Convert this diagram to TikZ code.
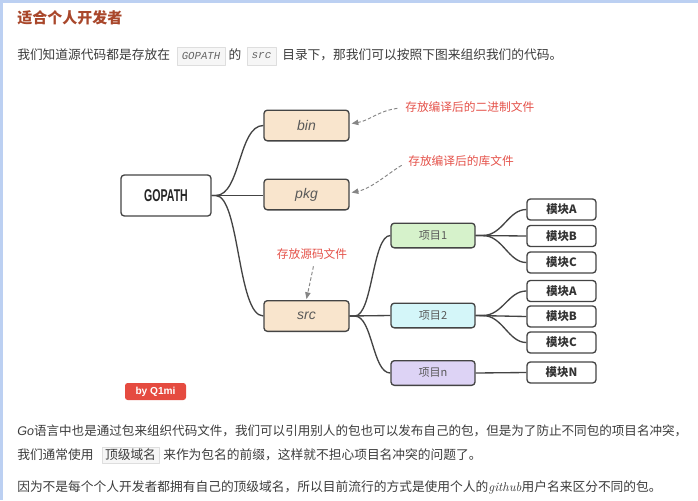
\documentclass[tikz,border=0pt]{standalone}
\usepackage{fontspec}
\usetikzlibrary{arrows.meta,calc}
\newfontfamily\cjk{Noto Sans CJK SC}
\newfontfamily\lsans{Liberation Sans}
\newfontfamily\lmono{Liberation Mono}
\definecolor{titlecol}{HTML}{A9472B}
\definecolor{bodytext}{HTML}{3C3C3C}
\definecolor{bordercol}{HTML}{BCD0F2}
\definecolor{codebg}{HTML}{F6F6F6}
\definecolor{codeline}{HTML}{DEDEDE}
\definecolor{boxline}{HTML}{444444}
\definecolor{peach}{HTML}{F9E5CD}
\definecolor{green1}{HTML}{D6F2CB}
\definecolor{cyan1}{HTML}{D4F6F9}
\definecolor{lav1}{HTML}{DDD3F5}
\definecolor{notered}{HTML}{E5524A}
\definecolor{notegray}{HTML}{858585}
\definecolor{badge}{HTML}{E54B40}
\begin{document}
\begin{tikzpicture}[x=0.75pt,y=-0.75pt,line join=round,
  box/.style={draw=boxline,line width=1pt,rounded corners=2.5pt,inner sep=0pt},
  gobox/.style={box,fill=white,minimum width=67.5pt,minimum height=30.75pt},
  dirbox/.style={box,fill=peach,minimum width=63.75pt,minimum height=23pt,
     font=\lsans\itshape\fontsize{10.5}{12}\selectfont,text=black!65},
  projbox/.style={box,minimum width=63pt,minimum height=18.5pt,
     font=\cjk\fontsize{8.3}{10}\selectfont,text=black!65},
  modbox/.style={box,fill=white,minimum width=51.75pt,minimum height=15.75pt,
     font=\cjk\bfseries\fontsize{8.6}{10}\selectfont,text=black!80},
  conn/.style={draw=boxline,line width=1pt},
  note/.style={draw=notegray,line width=0.7pt,dash pattern=on 2.6pt off 1.6pt,
     -{Triangle[length=5pt,width=4pt]},shorten <=2pt},
  notetext/.style={text=notered,font=\cjk\fontsize{8.8}{10}\selectfont,inner sep=0pt},
  para/.style={anchor=west,inner sep=0pt,text=bodytext,font=\cjk\fontsize{9.55}{12}\selectfont},
  codebox/.style={draw=codeline,fill=codebg,line width=0.6pt,inner sep=0pt}
]
\useasboundingbox (0,0) rectangle (698,500);
\fill[white] (0,0) rectangle (698,500);
\fill[bordercol] (0,0) rectangle (698,2.5);
\fill[bordercol] (0,0) rectangle (2.5,500);

% header text
\node[anchor=west,inner sep=0pt,text=titlecol,font=\cjk\bfseries\fontsize{11.25}{13}\selectfont] (title) at (17,18) {适合个人开发者};
\node[para] (t1) at (17,55) {我们知道源代码都是存放在};
\node[codebox,minimum width=36pt,minimum height=13.5pt,font=\lmono\itshape\fontsize{8}{9}\selectfont,text=black!60] (c1) at (201,56) {GOPATH};
\node[para,anchor=center] (t2) at (235,55) {的};
\node[codebox,minimum width=21.75pt,minimum height=13.5pt,font=\lmono\itshape\fontsize{8.3}{9}\selectfont,text=black!60] (c2) at (261.5,56) {src};
\node[para] (t3) at (282,55) {目录下，那我们可以按照下图来组织我们的代码。};

% tree nodes
\node[gobox] (gopath) at (166,195.5) {\scalebox{0.62}[1]{\lsans\bfseries\fontsize{12.8}{14}\selectfont\color{black!85}GOPATH}};
\node[dirbox] (bin) at (306.5,125.5) {bin};
\node[dirbox] (pkg) at (306.5,194.5) {pkg};
\node[dirbox] (src) at (306.5,316) {src};
\node[projbox,fill=green1] (p1) at (433,235.5) {项目1};
\node[projbox,fill=cyan1] (p2) at (433,315.5) {项目2};
\node[projbox,fill=lav1] (pn) at (433,373) {项目n};
\node[modbox] (m1a) at (561.5,209.5) {模块A};
\node[modbox] (m1b) at (561.5,236) {模块B};
\node[modbox] (m1c) at (561.5,262.5) {模块C};
\node[modbox] (m2a) at (561.5,291) {模块A};
\node[modbox] (m2b) at (561.5,316.5) {模块B};
\node[modbox] (m2c) at (561.5,342.5) {模块C};
\node[modbox] (mn) at (561.5,372.5) {模块N};

% connectors
\coordinate (g0) at ($(gopath.east)+(4,0)$);
\draw[conn] (gopath.east) -- (g0) .. controls +(25,0) and +(-25,0) .. (bin.west);
\draw[conn] (gopath.east) -- (pkg.west |- gopath.east);
\draw[conn] (gopath.east) -- (g0) .. controls +(24,0) and +(-26,0) .. (src.west);

\coordinate (s0) at ($(src.east)+(5,0)$);
\draw[conn] (src.east) -- (s0) .. controls +(18,0) and +(-18,0) .. (p1.west);
\draw[conn] (src.east) -- (p2.west);
\draw[conn] (src.east) -- (s0) .. controls +(18,0) and +(-18,0) .. (pn.west);

\coordinate (q1) at ($(p1.east)+(7,0)$);
\draw[conn] (p1.east) -- (q1) .. controls +(20,0) and +(-18,0) .. (m1a.west);
\draw[conn] (p1.east) -- (m1b.west);
\draw[conn] (p1.east) -- (q1) .. controls +(20,0) and +(-18,0) .. (m1c.west);

\coordinate (q2) at ($(p2.east)+(7,0)$);
\draw[conn] (p2.east) -- (q2) .. controls +(20,0) and +(-18,0) .. (m2a.west);
\draw[conn] (p2.east) -- (m2b.west);
\draw[conn] (p2.east) -- (q2) .. controls +(20,0) and +(-18,0) .. (m2c.west);

\draw[conn] (pn.east) -- (mn.west);

% annotations
\node[notetext,anchor=west] (a1) at (405,107) {存放编译后的二进制文件};
\node[notetext,anchor=west] (a2) at (408,161) {存放编译后的库文件};
\node[notetext] (a3) at (312,254) {存放源码文件};
\draw[note] ($(a1.west)+(-5,1)$) .. controls +(-22,3) and +(18,-3) .. ($(bin.east)+(2,-2)$);
\draw[note] ($(a2.west)+(-4,3)$) .. controls +(-14,8) and +(20,-4) .. ($(pkg.east)+(2,-2)$);
\draw[note] ($(a3.south)+(2,4)$) -- ($(src.north)+(0,-1)$);

% badge
\node[fill=badge,rounded corners=2pt,minimum width=45.75pt,minimum height=12.75pt,inner sep=0pt,
      text=white,font=\lsans\bfseries\fontsize{7.6}{9}\selectfont] (badge) at (155.5,391.5) {by Q1mi};

% footer text
\node[para] (b1) at (17,431) {\resizebox{502.5pt}{!}{{\lsans\itshape Go}语言中也是通过包来组织代码文件，我们可以引用别人的包也可以发布自己的包，但是为了防止不同包的项目名冲突，}};
\node[para] (b2a) at (17,455) {我们通常使用};
\node[codebox,minimum width=42.75pt,minimum height=12pt,font=\cjk\fontsize{9.55}{12}\selectfont,text=bodytext] (c3) at (130.5,455) {顶级域名};
\node[para] (b2b) at (163,455) {来作为包名的前缀，这样就不担心项目名冲突的问题了。};
\node[para] (b3) at (17,487) {因为不是每个个人开发者都拥有自己的顶级域名，所以目前流行的方式是使用个人的{\rmfamily\itshape github}用户名来区分不同的包。};
\end{tikzpicture}
\end{document}
